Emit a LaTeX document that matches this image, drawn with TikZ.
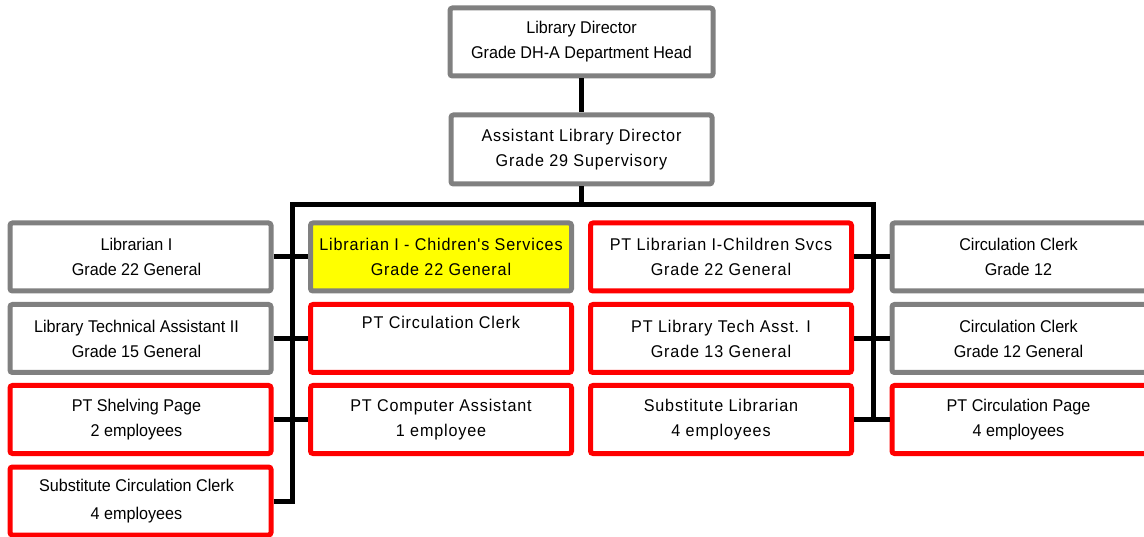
\documentclass[tikz,border=0pt]{standalone}
\usepackage{fontspec}
\setmainfont[FakeStretch=0.95]{Liberation Sans}
\newfontfamily\spacedfont[FakeStretch=0.95,LetterSpace=5]{Liberation Sans}
\definecolor{boxgray}{HTML}{808080}
\definecolor{boxred}{HTML}{FF0000}
\definecolor{boxyellow}{HTML}{FFFF00}
\begin{document}
\begin{tikzpicture}[x=1pt,y=-1pt,
  box/.style={draw, line width=5pt, rounded corners=2.5pt, fill=white,
    minimum width=261pt, minimum height=68pt, inner sep=0pt, align=center,
    font=\fontsize{17}{25}\selectfont},
  sp/.style={font=\fontsize{17}{25}\selectfont\spacedfont},
  gbox/.style={box, draw=boxgray},
  rbox/.style={box, draw=boxred},
  ybox/.style={box, draw=boxgray, fill=boxyellow},
  conn/.style={draw=black, line width=5pt}]
\useasboundingbox (0,0) rectangle (1144,537);
\clip (0,0) rectangle (1144,537);

% top
\node[gbox, minimum width=263pt] (dir) at (581.5,42) {Library Director\\Grade DH-A Department Head};
\node[gbox, sp, minimum height=69pt] (asst) at (581.5,149.5) {Assistant Library Director\\Grade 29 Supervisory};

% column 1
\node[gbox] (a1) at (140.5,257) {Librarian I\hspace*{8pt}\\Grade 22 General\hspace*{8pt}};
\node[gbox] (a2) at (140.5,338.5) {Library Technical Assistant II\hspace*{8pt}\\Grade 15 General\hspace*{8pt}};
\node[rbox] (a3) at (140.5,419.5) {PT Shelving Page\hspace*{8pt}\\2 employees\hspace*{8pt}};
\node[rbox, font=\fontsize{17}{28}\selectfont] (a4) at (140.5,501) {Substitute Circulation Clerk\hspace*{8pt}\\4 employees\hspace*{8pt}};

% column 2
\node[ybox, sp] (b1) at (441,257) {Librarian I - Chidren's Services\\Grade 22 General};
\node[rbox, sp] (b2) at (441,338.5) {PT Circulation Clerk\\\strut};
\node[rbox, sp] (b3) at (441,419.5) {PT Computer Assistant\\1 employee};

% column 3
\node[rbox, sp] (c1) at (721,257) {PT Librarian I-Children Svcs\\Grade 22 General};
\node[rbox, sp] (c2) at (721,338.5) {PT Library Tech Asst. I\\Grade 13 General};
\node[rbox, sp] (c3) at (721,419.5) {Substitute Librarian\\4 employees};

% column 4
\node[gbox] (d1) at (1022.5,257) {Circulation Clerk\hspace*{8pt}\\Grade 12\hspace*{8pt}};
\node[gbox] (d2) at (1022.5,338.5) {Circulation Clerk\hspace*{8pt}\\Grade 12 General\hspace*{8pt}};
\node[rbox] (d3) at (1022.5,419.5) {PT Circulation Page\hspace*{8pt}\\4 employees\hspace*{8pt}};

% bus coordinates
\coordinate (bus) at (581.5,205);
\coordinate (hl) at (292,205);
\coordinate (hr) at (873,205);

\draw[conn] (dir.south) -- (asst.north);
\draw[conn] (asst.south) -- (bus);
\draw[conn, line join=miter] (a4.east) -| (hl) -- (hr) |- (d3.west);
\draw[conn] (a1.east) -- (b1.west);
\draw[conn] (a2.east) -- (b2.west);
\draw[conn] (a3.east) -- (b3.west);
\draw[conn] (c1.east) -- (d1.west);
\draw[conn] (c2.east) -- (d2.west);
\draw[conn] (c3.east) -- (d3.west);
\end{tikzpicture}
\end{document}
